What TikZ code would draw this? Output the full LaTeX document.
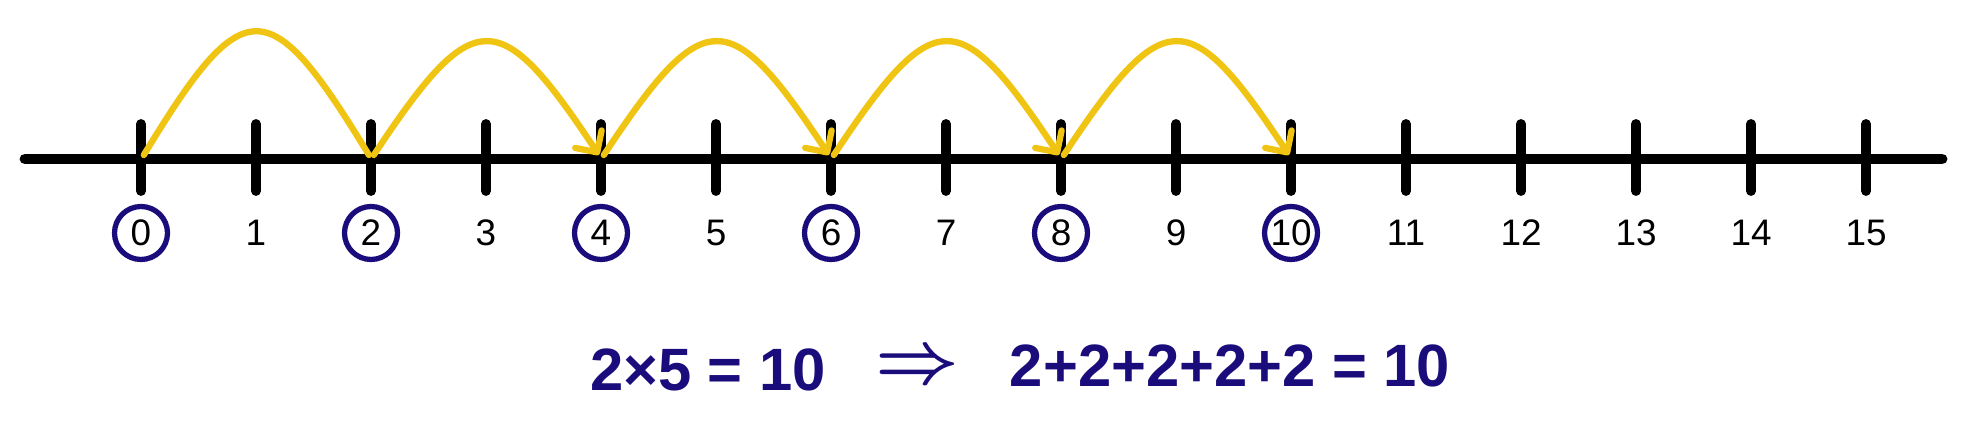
\documentclass[tikz,border=0pt]{standalone}
\usepackage{fontspec}
\setmainfont{Liberation Sans}
\usetikzlibrary{arrows.meta}
\definecolor{navy}{RGB}{26,12,122}
\definecolor{jumpyellow}{RGB}{240,196,18}
\begin{document}
\begin{tikzpicture}[x=0.1mm,y=-0.1mm]
        \tikzstyle{every node} = [inner sep=0pt, font=\fontsize{10.5}{13}\selectfont]
        \tikzstyle{ring} = [circle, draw=navy, line width=1.5pt, minimum size=5.3mm]
        \tikzstyle{jump} = [draw=jumpyellow, line width=1.8pt, line cap=round, line join=round]
        \useasboundingbox (0,0) rectangle (1965,436);
        \coordinate (left) at (25,159);
        \coordinate (right) at (1942,159);
        \draw[line width=3.1pt, line cap=round] (left) -- (right);
        \foreach \n in {0,...,15} {
            \draw[line width=2.8pt, line cap=round] (141+115*\n,124) -- (141+115*\n,191);
            \coordinate (t\n) at (141+115*\n,155);
            \node (n\n) at (141+115*\n,233) {\n};
        }
        \foreach \n in {0,2,...,10}
            \node[ring] (c\n) at (n\n) {};
        \draw[jump] ([xshift=0.8pt]t0) .. controls +(100,-165) and +(-100,-165) .. ([xshift=-0.6pt]t2);
        \foreach \from/\to in {2/4, 4/6, 6/8, 8/10}
            \draw[jump, -{Straight Barb[length=4.5pt,width=9pt,round]}] ([xshift=0.8pt]t\from) .. controls +(100,-151) and +(-100,-151) .. ([xshift=-0.6pt]t\to);
        \node[text=navy, font=\fontsize{17}{20}\selectfont\bfseries] (prod) at (708,370) {2×5 = 10};
        \node[text=navy, font=\fontsize{20}{24}\selectfont\boldmath] (implies) at (917,368) {$\Rightarrow$};
        \node[text=navy, font=\fontsize{17}{20}\selectfont\bfseries] (sum) at (1230,366) {2+2+2+2+2 = 10};
\end{tikzpicture}
\end{document}
